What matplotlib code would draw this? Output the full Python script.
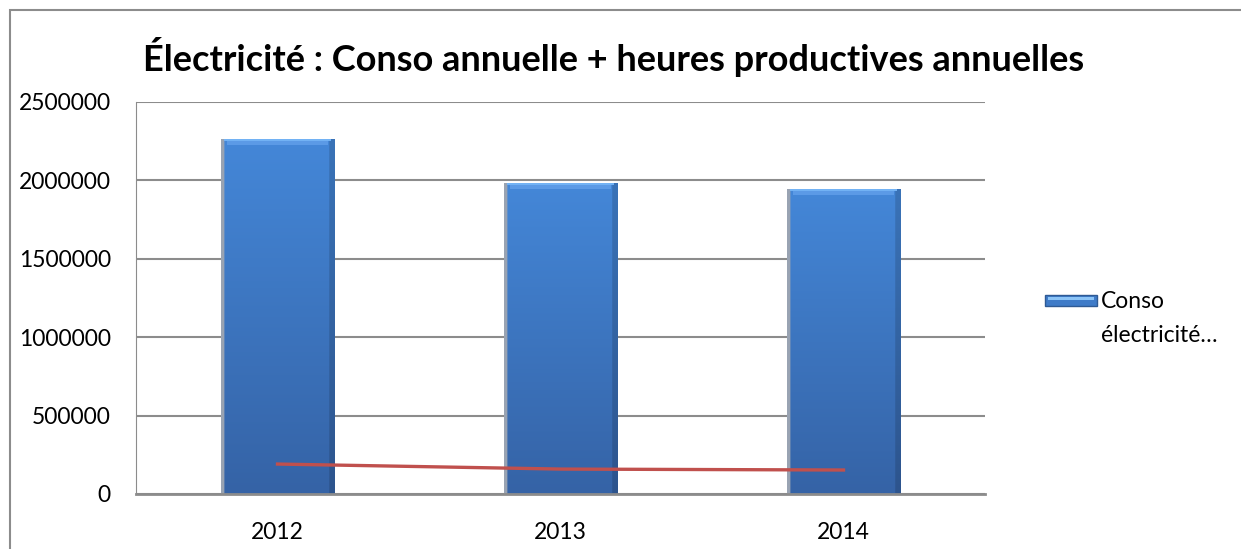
import numpy as np
import matplotlib.pyplot as plt
from matplotlib.patches import Rectangle

years = ['2012', '2013', '2014']
conso = [2264000, 1983000, 1945000]
heures = [191000, 159000, 153000]
yticks = [0, 500000, 1000000, 1500000, 2000000, 2500000]
legend_label = ['Conso', 'électricité…']

plt.rcParams['font.family'] = ['Lato', 'DejaVu Sans']

fig = plt.figure(figsize=(12.41, 5.49), dpi=100)
# outer chart border (runs off right/bottom like the screenshot)
fig.patches.append(Rectangle((10 / 1241, -0.1), 1.2, (549 - 10) / 549 + 0.1,
                             transform=fig.transFigure, fill=False,
                             edgecolor='#8c8c8c', linewidth=1.5))

ax = fig.add_axes([136 / 1241, 1 - 494 / 549, (985 - 136) / 1241, (494 - 102) / 549])
x = np.arange(len(years))
w = 0.40

ax.set_ylim(0, 2500000)
ax.set_xlim(-0.5, 2.5)
ax.set_yticks(yticks)
ax.set_yticklabels([str(v) for v in yticks], fontsize=16.5)
ax.set_xticks(x)
ax.set_xticklabels(years, fontsize=16.5)
ax.tick_params(axis='y', length=0, pad=18)
ax.tick_params(axis='x', length=0, pad=20)
ax.grid(axis='y', color='#8c8c8c', linewidth=1.5)
ax.set_axisbelow(True)
for s in ['top', 'right']:
    ax.spines[s].set_visible(False)
ax.spines['left'].set_color('#8c8c8c')
ax.spines['bottom'].set_color('#8c8c8c')
ax.spines['bottom'].set_linewidth(2)

# bar shading: top lighter, bottom darker, grey left edge, darker right edge
top = np.array([0x44, 0x87, 0xd8]) / 255
bot = np.array([0x35, 0x63, 0xa6]) / 255
t = np.linspace(0, 1, 100)[:, None, None]
img = bot * (1 - t) + top * t
img = np.repeat(img, 100, axis=1)
img[:, :3] = [0.60, 0.64, 0.70]
img[:, -5:] *= 0.85
bars = ax.bar(x, conso, width=w, color='#3a76c0', zorder=2)
for b in bars:
    x0, y0 = b.get_x(), b.get_y()
    bw, bh = b.get_width(), b.get_height()
    im = ax.imshow(img, extent=[x0, x0 + bw, y0, y0 + bh],
                   aspect='auto', origin='lower', zorder=2.1)
    im.set_clip_path(b)
    ax.add_patch(Rectangle((x0 + bw * 0.05, y0 + bh - 40000), bw * 0.90, 30000,
                           color='#5b9ae6', zorder=2.2, linewidth=0))
    ax.add_patch(Rectangle((x0 + bw * 0.03, y0 + bh - 15000), bw * 0.94, 15000,
                           color='#72b2f4', zorder=2.2, linewidth=0))

ax.plot(x, heures, color='#c0504d', linewidth=2.4, zorder=3)

fig.text(0.4948, 1 - 57 / 549, 'Électricité : Conso annuelle + heures productives annuelles',
         ha='center', va='center', fontsize=26, fontweight='bold')

# legend drawn like the Excel one: swatch + two text lines
fig.patches.append(Rectangle((1045 / 1241, 1 - 306 / 549), 52 / 1241, 11 / 549,
                             transform=fig.transFigure, facecolor='#3f7bc8',
                             edgecolor='#2f5a94', linewidth=1))
fig.patches.append(Rectangle((1048 / 1241, 1 - 300 / 549), 46 / 1241, 3 / 549,
                             transform=fig.transFigure, facecolor='#8cc4f7',
                             linewidth=0))
fig.text(1101 / 1241, 1 - 301 / 549, legend_label[0], ha='left', va='center', fontsize=16.5)
fig.text(1101 / 1241, 1 - 335 / 549, legend_label[1], ha='left', va='center', fontsize=16.5)

fig.savefig('out.png', dpi=100)
